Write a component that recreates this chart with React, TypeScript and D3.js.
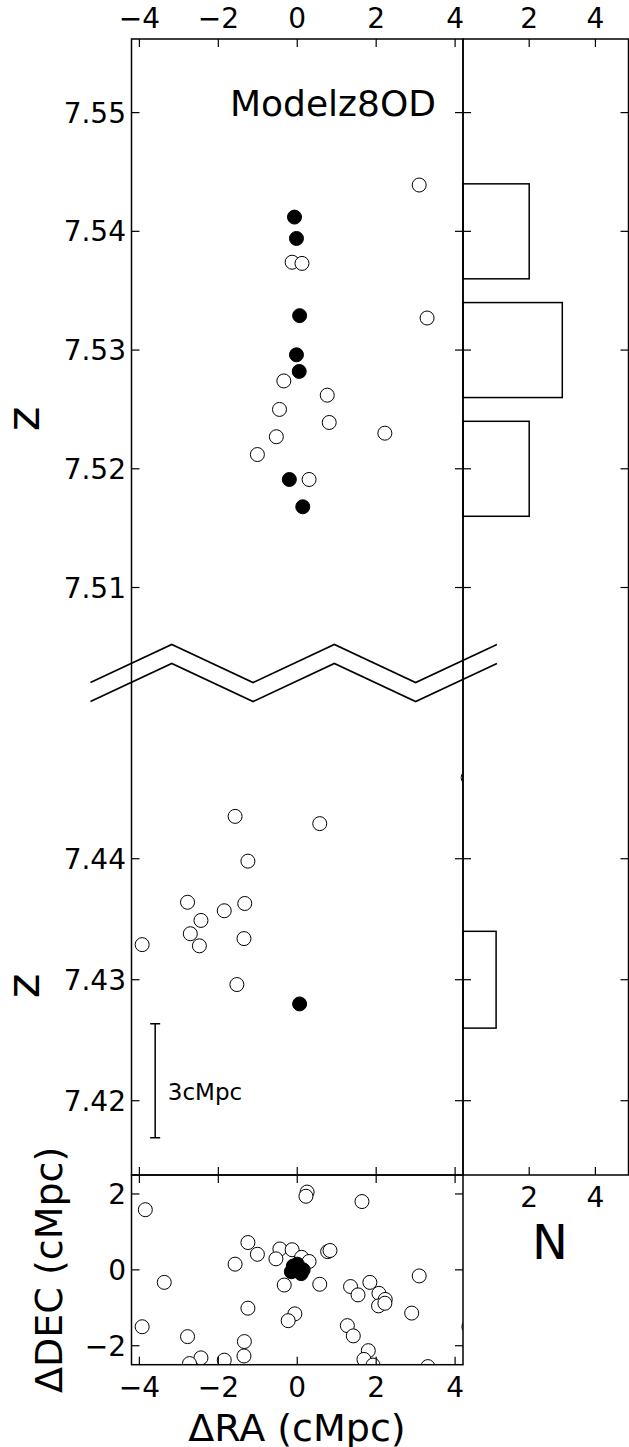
import React from "react";
import * as d3 from "d3";

// ---------- data ----------
const upperFilledRA = [-0.07, -0.02, 0.06, -0.02, 0.05, -0.2, 0.14];
const upperFilledZ = [7.5412, 7.5394, 7.5329, 7.5296, 7.5282, 7.5191, 7.5168];
const upperOpenRA = [3.09, -0.13, 0.12, 3.29, -0.34, 0.76, -0.45, 0.81, 2.22, -0.53, -1.01, 0.3];
const upperOpenZ = [7.5439, 7.5374, 7.5373, 7.5327, 7.5274, 7.5262, 7.525, 7.5239, 7.523, 7.5227, 7.5212, 7.5191];
const lowerOpenRA = [-1.575, 0.57, -1.25, -2.78, -1.85, -1.33, -2.44, -2.71, -2.48, -1.35, -3.93, -1.53, 4.33];
const lowerOpenZ = [7.4435, 7.4429, 7.4398, 7.4364, 7.4357, 7.4363, 7.4349, 7.4338, 7.4328, 7.4334, 7.4329, 7.4296, 7.4467];
const lowerFilledRA = [0.06];
const lowerFilledZ = [7.428];

const skyOpenRA = [-3.85, 0.25, 0.22, 1.64, -1.25, -1.01, -1.575, -3.37, -0.44, -0.54, -0.13, 0.11, 0.3, 0.77, 0.83, -0.33, 0.57, -1.25, -0.06, -0.23, 1.35, 1.54, 1.84, 2.07, 2.23, 2.06, 2.22, 3.09, 2.9, -3.93, -2.78, -1.34, -1.35, -2.44, -2.73, -1.85, 1.27, 1.42, 1.8, 1.69, 1.92, 3.31, 4.35];
const skyOpenDEC = [1.585, 2.05, 1.94, 1.8, 0.72, 0.41, 0.15, -0.33, 0.55, 0.29, 0.53, 0.33, 0.22, 0.48, 0.51, -0.4, -0.38, -1.01, -1.16, -1.34, -0.44, -0.66, -0.33, -0.62, -0.78, -0.95, -0.88, -0.16, -1.14, -1.5, -1.76, -1.89, -2.27, -2.32, -2.47, -2.38, -1.47, -1.74, -2.13, -2.36, -2.51, -2.55, -1.5];
const skyFilledRA = [-0.15, 0.0, 0.1, 0.05, -0.05, 0.15, -0.1, 0.05];
const skyFilledDEC = [-0.05, 0.15, -0.1, 0.05, 0.0, 0.0, 0.1, -0.05];

const histUpperCenters = [7.54, 7.53, 7.52];
const histUpperCounts = [2, 3, 2];
const histLowerCenters = [7.43];
const histLowerCounts = [1];
const histBarSpan = 0.008;

const raTicks = [-4, -2, 0, 2, 4];
const zUpperTicks = [7.51, 7.52, 7.53, 7.54, 7.55];
const zLowerTicks = [7.42, 7.43, 7.44];
const decTicks = [-2, 0, 2];
const nTicks = [2, 4];

const breakXs = [-5.24, -3.18, -1.12, 0.94, 3.0, 5.06];
const scaleBarRA = -3.6;
const scaleBarZ = [7.41694, 7.42636];

// ---------- layout ----------
const W = 629;
const H = 1447;
const X0 = 131.5;
const X1 = 463;
const HX1 = 628.5;
const Y0 = 39;
const YB = 673;
const Y1 = 1175;
const YS = 1364.7;
const TL = 8;
const TF = 28;
const FONT = "DejaVu Sans, sans-serif";

const fmtTick = (v: number) => (v < 0 ? "\u2212" + Math.abs(v) : String(v));

export default function App() {
  const x = d3.scaleLinear().domain([-4.2, 4.2]).range([X0, X1]);
  const zU = d3.scaleLinear().domain([7.5028, 7.5562]).range([YB, Y0]);
  const zL = d3.scaleLinear().domain([7.41386, 7.45535]).range([Y1, YB]);
  const dec = d3.scaleLinear().domain([-2.5, 2.5]).range([YS, Y1]);
  const n = d3.scaleLinear().domain([0, 5]).range([X1, HX1]);

  const line = d3.line<[number, number]>();
  const amp = 19;
  const upperBreak: [number, number][] = breakXs.map((v, i) => [x(v), YB - 9.5 + (i % 2 === 0 ? amp : -amp)]);
  const lowerBreak: [number, number][] = breakXs.map((v, i) => [x(v), YB + 9.5 + (i % 2 === 0 ? amp : -amp)]);

  const sk = { stroke: "#000", strokeWidth: 1.2, fill: "none" } as const;
  const circ = (cx: number, cy: number, filled: boolean, k: string) => (
    <circle key={k} cx={cx} cy={cy} r={7} fill={filled ? "#000" : "#fff"} stroke="#000" strokeWidth={1} />
  );

  return (
    <svg width={W} height={H} style={{ position: "absolute", left: 0, top: 0, background: "#fff" }} fontFamily={FONT}>
      <defs>
        <clipPath id="cu"><rect x={X0} y={Y0} width={X1 - X0} height={YB - Y0} /></clipPath>
        <clipPath id="cl"><rect x={X0} y={YB} width={X1 - X0} height={Y1 - YB} /></clipPath>
        <clipPath id="cs"><rect x={X0} y={Y1} width={X1 - X0} height={YS - Y1} /></clipPath>
      </defs>
      <rect x={0} y={0} width={W} height={H} fill="#fff" />

      {/* upper points */}
      <g clipPath="url(#cu)">
        {upperOpenRA.map((r, i) => circ(x(r), zU(upperOpenZ[i]), false, "uo" + i))}
        {upperFilledRA.map((r, i) => circ(x(r), zU(upperFilledZ[i]), true, "uf" + i))}
      </g>
      {/* lower points */}
      <g clipPath="url(#cl)">
        {lowerOpenRA.map((r, i) => circ(x(r), zL(lowerOpenZ[i]), false, "lo" + i))}
        {lowerFilledRA.map((r, i) => circ(x(r), zL(lowerFilledZ[i]), true, "lf" + i))}
      </g>
      {/* sky points */}
      <g clipPath="url(#cs)">
        {skyOpenRA.map((r, i) => circ(x(r), dec(skyOpenDEC[i]), false, "so" + i))}
        {skyFilledRA.map((r, i) => circ(x(r), dec(skyFilledDEC[i]), true, "sf" + i))}
      </g>

      {/* histogram bars */}
      {histUpperCenters.map((c, i) => (
        <rect key={"hu" + i} x={n(0)} y={zU(c + histBarSpan / 2)} width={n(histUpperCounts[i]) - n(0)}
          height={zU(c - histBarSpan / 2) - zU(c + histBarSpan / 2)} {...sk} strokeWidth={1.5} />
      ))}
      {histLowerCenters.map((c, i) => (
        <rect key={"hl" + i} x={n(0)} y={zL(c + histBarSpan / 2)} width={n(histLowerCounts[i]) - n(0)}
          height={zL(c - histBarSpan / 2) - zL(c + histBarSpan / 2)} {...sk} strokeWidth={1.5} />
      ))}

      {/* spines */}
      <rect x={X0} y={Y0} width={X1 - X0} height={Y1 - Y0} {...sk} strokeWidth={1.5} />
      <rect x={X1} y={Y0} width={HX1 - X1} height={Y1 - Y0} {...sk} strokeWidth={1.5} />
      <rect x={X0} y={Y1} width={X1 - X0} height={YS - Y1} {...sk} strokeWidth={1.5} />

      {/* RA ticks */}
      {raTicks.map((t) => (
        <g key={"rt" + t}>
          <line x1={x(t)} x2={x(t)} y1={Y0} y2={Y0 + TL} {...sk} />
          <line x1={x(t)} x2={x(t)} y1={Y1} y2={Y1 - TL} {...sk} />
          <line x1={x(t)} x2={x(t)} y1={Y1} y2={Y1 + TL} {...sk} />
          <line x1={x(t)} x2={x(t)} y1={YS} y2={YS - TL} {...sk} />
          <text x={x(t)} y={28} fontSize={TF} textAnchor="middle">{fmtTick(t)}</text>
          <text x={x(t)} y={1397} fontSize={TF} textAnchor="middle">{fmtTick(t)}</text>
        </g>
      ))}
      {/* N ticks */}
      {nTicks.map((t) => (
        <g key={"nt" + t}>
          <line x1={n(t)} x2={n(t)} y1={Y0} y2={Y0 + TL} {...sk} />
          <line x1={n(t)} x2={n(t)} y1={Y1} y2={Y1 - TL} {...sk} />
          <text x={n(t)} y={28} fontSize={TF} textAnchor="middle">{t}</text>
          <text x={n(t)} y={1207} fontSize={TF} textAnchor="middle">{t}</text>
        </g>
      ))}
      {/* z ticks */}
      {[...zUpperTicks.map((t) => ({ t, y: zU(t) })), ...zLowerTicks.map((t) => ({ t, y: zL(t) }))].map(({ t, y }) => (
        <g key={"zt" + t}>
          <line x1={X0} x2={X0 + TL} y1={y} y2={y} {...sk} />
          <line x1={X1} x2={X1 - TL} y1={y} y2={y} {...sk} />
          <line x1={X1} x2={X1 + TL} y1={y} y2={y} {...sk} />
          <line x1={HX1} x2={HX1 - TL} y1={y} y2={y} {...sk} />
          <text x={126} y={y + 10} fontSize={TF} textAnchor="end">{t.toFixed(2)}</text>
        </g>
      ))}
      {/* DEC ticks */}
      {decTicks.map((t) => (
        <g key={"dt" + t}>
          <line x1={X0} x2={X0 + TL} y1={dec(t)} y2={dec(t)} {...sk} />
          <line x1={X1} x2={X1 - TL} y1={dec(t)} y2={dec(t)} {...sk} />
          <text x={126} y={dec(t) + 10} fontSize={TF} textAnchor="end">{fmtTick(t)}</text>
        </g>
      ))}

      {/* break marks */}
      <path d={line(upperBreak) || ""} {...sk} strokeWidth={1.6} />
      <path d={line(lowerBreak) || ""} {...sk} strokeWidth={1.6} />

      {/* scale bar */}
      <line x1={x(scaleBarRA)} x2={x(scaleBarRA)} y1={zL(scaleBarZ[0])} y2={zL(scaleBarZ[1])} {...sk} strokeWidth={1.5} />
      <line x1={x(scaleBarRA) - 5} x2={x(scaleBarRA) + 5} y1={zL(scaleBarZ[0])} y2={zL(scaleBarZ[0])} {...sk} strokeWidth={1.5} />
      <line x1={x(scaleBarRA) - 5} x2={x(scaleBarRA) + 5} y1={zL(scaleBarZ[1])} y2={zL(scaleBarZ[1])} {...sk} strokeWidth={1.5} />
      <text x={x(-3.28)} y={zL(7.4207) + 8} fontSize={23}>3cMpc</text>

      {/* labels */}
      <text x={333} y={116} fontSize={36} textAnchor="middle">Modelz8OD</text>
      <text transform={`translate(39,${(Y0 + YB) / 2 + 63}) rotate(-90)`} fontSize={47} textAnchor="middle">z</text>
      <text transform={`translate(39,${(YB + Y1) / 2 + 62}) rotate(-90)`} fontSize={47} textAnchor="middle">z</text>
      <text transform={`translate(62,${(Y1 + YS) / 2}) rotate(-90)`} fontSize={38} textAnchor="middle">ΔDEC (cMpc)</text>
      <text x={297} y={1441} fontSize={38} textAnchor="middle">ΔRA (cMpc)</text>
      <text x={550} y={1259} fontSize={48} textAnchor="middle">N</text>
    </svg>
  );
}
